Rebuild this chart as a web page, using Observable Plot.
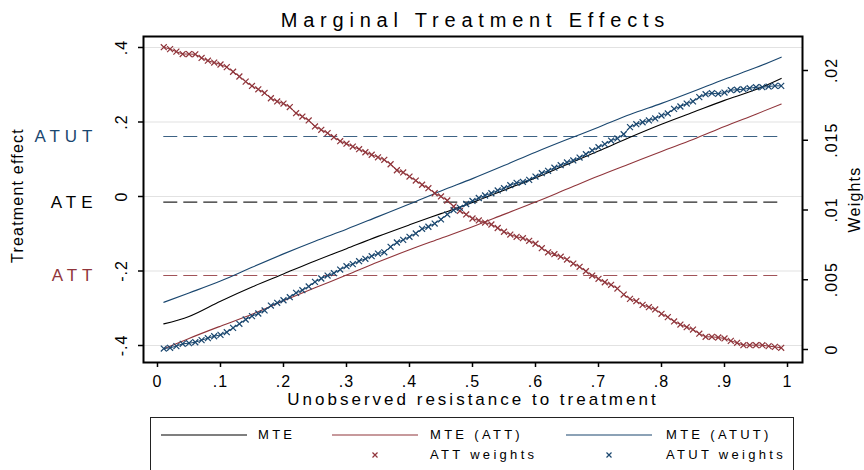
<!DOCTYPE html>
<html><head><meta charset="utf-8">
<script src="https://cdn.jsdelivr.net/npm/d3@7"></script>
<script src="https://cdn.jsdelivr.net/npm/@observablehq/plot@0.6"></script>
<style>
body{margin:0;background:#fff;}
#wrap{position:relative;width:864px;height:470px;overflow:hidden;font-family:"Liberation Sans",Arial,sans-serif;background:#fff;}
#title{position:absolute;left:143px;width:659px;top:10px;text-align:center;font-size:20px;line-height:20px;letter-spacing:5.8px;padding-left:5.8px;box-sizing:border-box;color:#000;}
#chart{position:absolute;left:0;top:0;}
#legend{position:absolute;left:150px;top:417px;}
#legend text{letter-spacing:3.3px;}
</style></head>
<body><div id="wrap"><div id="chart"></div><div id="title">Marginal Treatment Effects</div><div id="legend"></div></div>
<script>
// ---------- data ----------
const weightU = [0.01,0.02,0.03,0.04,0.05,0.06,0.07,0.08,0.09,0.10,0.11,0.12,0.13,0.14,0.15,0.16,0.17,0.18,0.19,0.20,
0.21,0.22,0.23,0.24,0.25,0.26,0.27,0.28,0.29,0.30,0.31,0.32,0.33,0.34,0.35,0.36,0.37,0.38,0.39,0.40,
0.41,0.42,0.43,0.44,0.45,0.46,0.47,0.48,0.49,0.50,0.51,0.52,0.53,0.54,0.55,0.56,0.57,0.58,0.59,0.60,
0.61,0.62,0.63,0.64,0.65,0.66,0.67,0.68,0.69,0.70,0.71,0.72,0.73,0.74,0.75,0.76,0.77,0.78,0.79,0.80,
0.81,0.82,0.83,0.84,0.85,0.86,0.87,0.88,0.89,0.90,0.91,0.92,0.93,0.94,0.95,0.96,0.97,0.98,0.99];

const attWeights = [0.02167,0.02153,0.02135,0.02118,0.02118,0.02116,0.02090,0.02070,0.02057,0.02043,
0.02024,0.01991,0.01957,0.01920,0.01889,0.01865,0.01839,0.01801,0.01778,0.01763,
0.01738,0.01694,0.01670,0.01642,0.01599,0.01575,0.01551,0.01522,0.01493,0.01475,
0.01455,0.01436,0.01414,0.01396,0.01378,0.01360,0.01328,0.01285,0.01269,0.01240,
0.01211,0.01181,0.01156,0.01120,0.01097,0.01068,0.01025,0.00993,0.00968,0.00939,
0.00925,0.00910,0.00896,0.00871,0.00844,0.00824,0.00808,0.00798,0.00779,0.00758,
0.00726,0.00697,0.00683,0.00665,0.00645,0.00616,0.00593,0.00561,0.00530,0.00507,
0.00482,0.00464,0.00437,0.00394,0.00363,0.00346,0.00320,0.00303,0.00287,0.00256,
0.00232,0.00201,0.00179,0.00160,0.00143,0.00113,0.00091,0.00091,0.00086,0.00079,
0.00062,0.00048,0.00031,0.00031,0.00031,0.00031,0.00024,0.00019,0.00012];

const atutWeights = [0.00007,0.00012,0.00024,0.00041,0.00045,0.00052,0.00067,0.00081,0.00095,0.00105,
0.00124,0.00155,0.00184,0.00215,0.00239,0.00258,0.00280,0.00315,0.00335,0.00353,
0.00375,0.00406,0.00425,0.00452,0.00485,0.00509,0.00530,0.00547,0.00573,0.00597,
0.00612,0.00633,0.00650,0.00669,0.00688,0.00697,0.00736,0.00767,0.00786,0.00808,
0.00832,0.00865,0.00880,0.00903,0.00932,0.00968,0.00999,0.01016,0.01043,0.01065,
0.01086,0.01104,0.01120,0.01140,0.01156,0.01178,0.01195,0.01202,0.01216,0.01240,
0.01264,0.01281,0.01303,0.01321,0.01341,0.01355,0.01376,0.01400,0.01427,0.01450,
0.01472,0.01498,0.01513,0.01543,0.01594,0.01615,0.01629,0.01642,0.01656,0.01677,
0.01692,0.01725,0.01742,0.01763,0.01778,0.01809,0.01830,0.01837,0.01833,0.01842,
0.01859,0.01862,0.01866,0.01873,0.01880,0.01880,0.01885,0.01890,0.01890];

const lineU   = [0.01,0.05,0.10,0.15,0.20,0.25,0.30,0.35,0.40,0.45,0.50,0.55,0.60,0.65,0.70,0.75,0.80,0.85,0.90,0.95,0.99];
const mte     = [-0.342,-0.322,-0.281,-0.243,-0.208,-0.173,-0.140,-0.107,-0.076,-0.046,-0.016,0.017,0.050,0.086,0.122,0.159,0.194,0.226,0.258,0.287,0.317];
const mteATT  = [-0.409,-0.381,-0.348,-0.316,-0.280,-0.245,-0.211,-0.176,-0.143,-0.112,-0.081,-0.048,-0.015,0.020,0.055,0.088,0.121,0.153,0.188,0.221,0.248];
const mteATUT = [-0.284,-0.259,-0.227,-0.190,-0.154,-0.120,-0.088,-0.054,-0.020,0.015,0.048,0.083,0.119,0.153,0.186,0.220,0.250,0.282,0.315,0.346,0.374];

const refNames  = ["ATUT","ATE","ATT"];
const refValues = [0.161,-0.015,-0.212];
const refSpan   = [0.01,0.99];

const xTicks = [0,0.1,0.2,0.3,0.4,0.5,0.6,0.7,0.8,0.9,1];
const xTickLabels = ["0",".1",".2",".3",".4",".5",".6",".7",".8",".9","1"];
const yTicks = [-0.4,-0.2,0,0.2,0.4];
const yTickLabels = ["-.4","-.2","0",".2",".4"];
const wTicks = [0,0.005,0.01,0.015,0.02];
const wTickLabels = ["0",".005",".01",".015",".02"];

const titleText = "Marginal Treatment Effects";
const xTitle = "Unobserved resistance to treatment";
const yTitle = "Treatment effect";
const wTitle = "Weights";
const legendLabels = ["MTE","MTE (ATT)","MTE (ATUT)","ATT weights","ATUT weights"];

// ---------- styling ----------
const NAVY = "#1a476f", MAROON = "#90353b", BLACK = "#000000";
const refColors = [NAVY, BLACK, MAROON];
const xDomain = [-0.0222, 1.0238];
const yDomain = [-0.4456, 0.4295];
const wDomain = [-0.000932, 0.022437];
const wToY = d3.scaleLinear().domain(wDomain).range(yDomain);

const lineRows = (ys) => lineU.map((u, i) => ({u, v: ys[i]}));
const wRows = (ws) => weightU.map((u, i) => ({u, v: wToY(ws[i])}));
const refRows = refNames.map((n, i) => ({name: n, v: refValues[i], u1: refSpan[0], u2: refSpan[1], color: refColors[i]}));
const attRows = wRows(attWeights), atutRows = wRows(atutWeights);

const plot = Plot.plot({
  width: 864, height: 412,
  marginTop: 36, marginBottom: 50, marginLeft: 143, marginRight: 62,
  x: {domain: xDomain},
  y: {domain: yDomain},
  style: {fontFamily: "'Liberation Sans', Arial, sans-serif", background: "white", color: "black", overflow: "visible"},
  marks: [
    Plot.gridY(yTicks, {stroke: "#e2e2e2", strokeOpacity: 1, strokeWidth: 1.2}),
    ...refRows.map(r => Plot.ruleY([r], {y: "v", x1: "u1", x2: "u2", stroke: r.color, strokeWidth: 1.2, strokeDasharray: "14,6", strokeOpacity: 0.85})),
    Plot.line(lineRows(mte), {x: "u", y: "v", stroke: BLACK, strokeWidth: 1.1, curve: "monotone-x"}),
    Plot.line(lineRows(mteATT), {x: "u", y: "v", stroke: MAROON, strokeWidth: 1.1, curve: "monotone-x"}),
    Plot.line(lineRows(mteATUT), {x: "u", y: "v", stroke: NAVY, strokeWidth: 1.1, curve: "monotone-x"}),
    Plot.line(attRows, {x: "u", y: "v", stroke: MAROON, strokeWidth: 1}),
    Plot.dot(attRows, {x: "u", y: "v", symbol: "times", r: 2.8, stroke: MAROON, strokeWidth: 1.2}),
    Plot.line(atutRows, {x: "u", y: "v", stroke: NAVY, strokeWidth: 1}),
    Plot.dot(atutRows, {x: "u", y: "v", symbol: "times", r: 2.8, stroke: NAVY, strokeWidth: 1.2}),
    Plot.frame({stroke: "black", strokeWidth: 2}),
    Plot.axisX({ticks: xTicks, tickSize: 5, tickFormat: () => "", label: null, strokeWidth: 1.5}),
    Plot.axisY({ticks: yTicks, tickSize: 5, tickFormat: () => "", label: null, strokeWidth: 1.5}),
    Plot.axisY({anchor: "right", ticks: wTicks.map(w => wToY(w)), tickSize: 5, tickFormat: () => "", label: null, strokeWidth: 1.5}),
    Plot.text(xTicks, {x: d => d, text: (d, i) => xTickLabels[i], frameAnchor: "bottom", dy: 19, lineAnchor: "middle", fontSize: 16, fill: "black"}),
    Plot.text(yTicks, {y: d => d, text: (d, i) => yTickLabels[i], frameAnchor: "left", dx: -22, rotate: -90, lineAnchor: "middle", textAnchor: "middle", fontSize: 16, fill: "black"}),
    Plot.text(wTicks, {y: d => wToY(d), text: (d, i) => wTickLabels[i], frameAnchor: "right", dx: 29, rotate: -90, lineAnchor: "middle", textAnchor: "middle", fontSize: 16, fill: "black"}),
    ...refRows.map(r => Plot.text([r], {y: "v", text: "name", frameAnchor: "left", dx: -46, textAnchor: "end", lineAnchor: "middle", fontSize: 17, fill: r.color})),
    Plot.text([xTitle], {text: d => d, frameAnchor: "bottom", dy: 36.6, lineAnchor: "middle", fontSize: 17, fill: "black"}),
    Plot.text([yTitle], {text: d => d, frameAnchor: "left", dx: -126, dy: -4, rotate: -90, lineAnchor: "middle", textAnchor: "middle", fontSize: 16, fill: "black"}),
    Plot.text([wTitle], {text: d => d, frameAnchor: "right", dx: 52, rotate: -90, lineAnchor: "middle", textAnchor: "middle", fontSize: 16, fill: "black"})
  ]
});
document.getElementById("chart").appendChild(plot);
document.getElementById("title").textContent = titleText;

// letter spacing like the reference rendering
const spacing = new Map([[xTitle, "3px"], [yTitle, "1.2px"], [wTitle, "1.2px"]]);
refNames.forEach(n => spacing.set(n, "5px"));
[...xTickLabels, ...yTickLabels, ...wTickLabels].forEach(t => { if (!spacing.has(t)) spacing.set(t, "1px"); });
d3.select(plot).selectAll("text").each(function() {
  const t = this.textContent;
  if (spacing.has(t)) this.style.letterSpacing = spacing.get(t);
});

// ---------- legend ----------
const items = [
  {label: legendLabels[0], kind: "line", color: BLACK, col: 0, row: 0},
  {label: legendLabels[1], kind: "line", color: MAROON, col: 1, row: 0},
  {label: legendLabels[2], kind: "line", color: NAVY, col: 2, row: 0},
  {label: legendLabels[3], kind: "mark", color: MAROON, col: 1, row: 1},
  {label: legendLabels[4], kind: "mark", color: NAVY, col: 2, row: 1}
];
const colKey = [[11, 97], [182, 268], [416, 502]];
const colText = [108, 280, 516];
const rowMid = [18, 38], rowBase = [22, 42];
let s = `<svg width="645" height="60" xmlns="http://www.w3.org/2000/svg" style="display:block;font-family:'Liberation Sans',Arial,sans-serif;font-size:13px">`;
s += `<rect x="0.5" y="0.5" width="643" height="80" fill="white" stroke="#222" stroke-width="1"/>`;
for (const it of items) {
  const [a, b] = colKey[it.col];
  const m = (a + b) / 2, y = rowMid[it.row];
  if (it.kind === "line") s += `<line x1="${a}" x2="${b}" y1="${y}" y2="${y}" stroke="${it.color}" stroke-width="1.2"/>`;
  else s += `<path d="M${m-2.5},${y-2.5}L${m+2.5},${y+2.5}M${m-2.5},${y+2.5}L${m+2.5},${y-2.5}" stroke="${it.color}" stroke-width="1.2"/>`;
  s += `<text x="${colText[it.col]}" y="${rowBase[it.row]}" fill="black">${it.label}</text>`;
}
s += `</svg>`;
document.getElementById("legend").innerHTML = s;
</script></body></html>
